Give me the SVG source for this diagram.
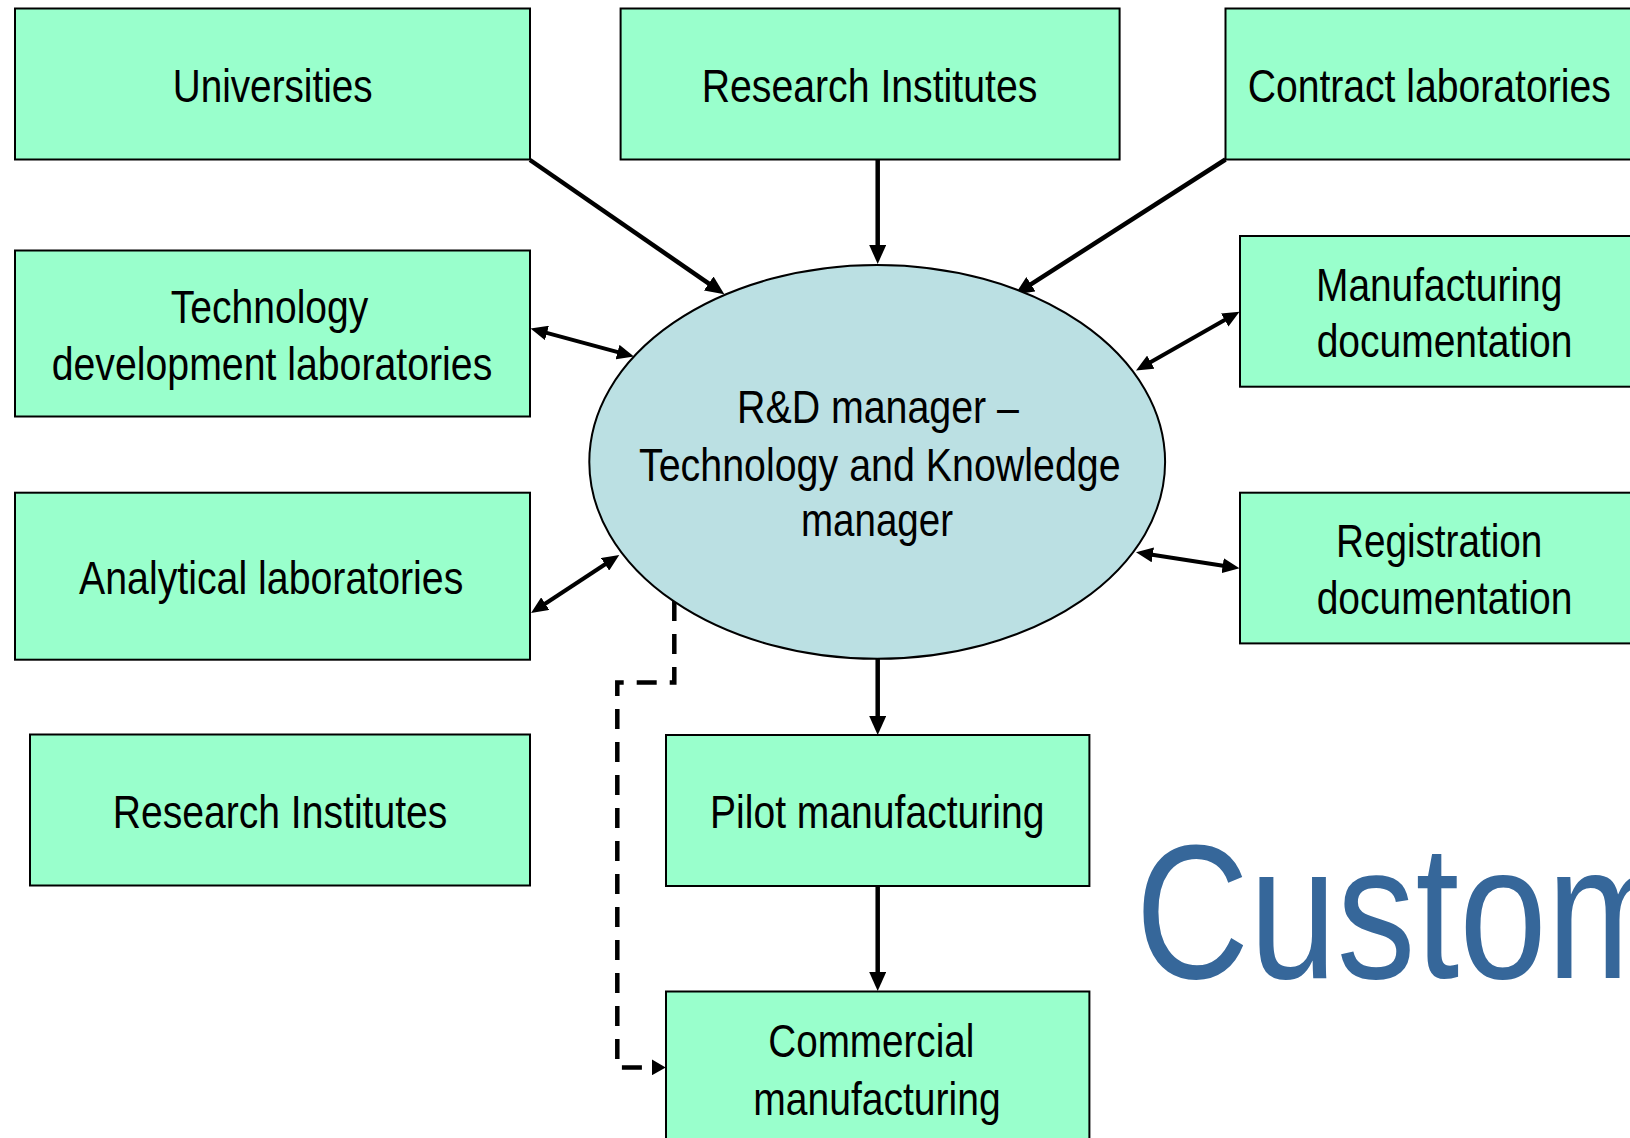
<svg xmlns="http://www.w3.org/2000/svg" width="1630" height="1138" viewBox="0 0 1630 1138">
<style>
.box{fill:#99FFCC;stroke:#000;stroke-width:2}
.ell{fill:#BBE0E3;stroke:#000;stroke-width:2}
.lbl{font-family:"Liberation Sans Narrow","Liberation Sans",Arial,sans-serif;font-size:46px;fill:#000}
.c{text-anchor:middle}
.conn{stroke:#000;stroke-width:4.5;fill:none}
.dbl{stroke:#000;stroke-width:4;fill:none}
.dash{stroke:#000;stroke-width:4.5;fill:none;stroke-dasharray:20 13}
.big{font-family:"Liberation Sans",Arial,sans-serif;font-size:192px;fill:#36679A}
</style>
<defs>
<marker id="ah" viewBox="0 0 19 17" refX="9" refY="8.5" markerWidth="19" markerHeight="17" markerUnits="userSpaceOnUse" orient="auto-start-reverse"><path d="M0,0 L19,8.5 L0,17 z" fill="#000"/></marker>
<marker id="ah2" viewBox="0 0 17 15" refX="7" refY="7.5" markerWidth="17" markerHeight="15" markerUnits="userSpaceOnUse" orient="auto-start-reverse"><path d="M0,0 L17,7.5 L0,15 z" fill="#000"/></marker>
<marker id="ahd" viewBox="0 0 14 16" refX="0" refY="8" markerWidth="14" markerHeight="16" markerUnits="userSpaceOnUse" orient="auto"><path d="M0,0 L14,8 L0,16 z" fill="#000"/></marker>
</defs>
<rect width="1630" height="1138" fill="#fff"/>

<g id="connectors">
<line class="conn" x1="530" y1="160" x2="716.1" y2="288.6" marker-end="url(#ah)"/>
<line class="conn" x1="877.7" y1="159.5" x2="877.7" y2="254" marker-end="url(#ah)"/>
<line class="conn" x1="1225.5" y1="159.5" x2="1023.4" y2="289.1" marker-end="url(#ah)"/>
<line class="dbl" x1="540.2" y1="331.1" x2="624.3" y2="353.9" marker-start="url(#ah2)" marker-end="url(#ah2)"/>
<line class="dbl" x1="539.4" y1="607.5" x2="610.9" y2="560.5" marker-start="url(#ah2)" marker-end="url(#ah2)"/>
<line class="dbl" x1="1144.7" y1="365.6" x2="1230.8" y2="316.6" marker-start="url(#ah2)" marker-end="url(#ah2)"/>
<line class="dbl" x1="1145.9" y1="553.8" x2="1229.6" y2="566.8" marker-start="url(#ah2)" marker-end="url(#ah2)"/>
<line class="conn" x1="877.7" y1="659" x2="877.7" y2="725" marker-end="url(#ah)"/>
<line class="conn" x1="877.7" y1="886" x2="877.7" y2="981" marker-end="url(#ah)"/>
<path class="dash" d="M674.3,601 V682.4 H617.3 V1067.4 H651.7" marker-end="url(#ahd)"/>
</g>

<g id="universities">
<rect class="box" x="15" y="8.5" width="515" height="151"/>
<text class="lbl c" x="272.7" y="102" textLength="200" lengthAdjust="spacingAndGlyphs">Universities</text>
</g>
<g id="research-institutes-top">
<rect class="box" x="620.6" y="8.5" width="499" height="151"/>
<text class="lbl c" x="869.5" y="102" textLength="335.7" lengthAdjust="spacingAndGlyphs">Research Institutes</text>
</g>
<g id="contract-laboratories">
<rect class="box" x="1225.5" y="8.5" width="420" height="151"/>
<text class="lbl" x="1247.7" y="101.7" textLength="363" lengthAdjust="spacingAndGlyphs">Contract laboratories</text>
</g>
<g id="technology-development-laboratories">
<rect class="box" x="15" y="250.5" width="515" height="166"/>
<text class="lbl c" x="269.5" y="322.7" textLength="197.6" lengthAdjust="spacingAndGlyphs">Technology</text>
<text class="lbl c" x="272" y="380" textLength="440.6" lengthAdjust="spacingAndGlyphs">development laboratories</text>
</g>
<g id="manufacturing-documentation">
<rect class="box" x="1240" y="236" width="409" height="150.7"/>
<text class="lbl" x="1316" y="300.5" textLength="246.3" lengthAdjust="spacingAndGlyphs">Manufacturing</text>
<text class="lbl" x="1316.7" y="357" textLength="255.7" lengthAdjust="spacingAndGlyphs">documentation</text>
</g>
<g id="rd-manager">
<ellipse class="ell" cx="877.2" cy="461.9" rx="287.9" ry="196.9"/>
<text class="lbl c" x="878" y="422.7" textLength="282" lengthAdjust="spacingAndGlyphs">R&amp;D manager –</text>
<text class="lbl c" x="879.8" y="480.7" textLength="481.6" lengthAdjust="spacingAndGlyphs">Technology and Knowledge</text>
<text class="lbl c" x="877" y="536" textLength="152" lengthAdjust="spacingAndGlyphs">manager</text>
</g>
<g id="analytical-laboratories">
<rect class="box" x="15" y="492.7" width="515" height="167"/>
<text class="lbl c" x="271.2" y="594.3" textLength="384.3" lengthAdjust="spacingAndGlyphs">Analytical laboratories</text>
</g>
<g id="registration-documentation">
<rect class="box" x="1240" y="492.7" width="409" height="150.7"/>
<text class="lbl" x="1336" y="557.3" textLength="206.3" lengthAdjust="spacingAndGlyphs">Registration</text>
<text class="lbl" x="1316.7" y="614" textLength="255.7" lengthAdjust="spacingAndGlyphs">documentation</text>
</g>
<g id="research-institutes-bottom">
<rect class="box" x="30" y="734.5" width="500" height="151"/>
<text class="lbl c" x="280" y="828.3" textLength="334.7" lengthAdjust="spacingAndGlyphs">Research Institutes</text>
</g>
<g id="pilot-manufacturing">
<rect class="box" x="666" y="735" width="423.4" height="151"/>
<text class="lbl c" x="877.2" y="828.2" textLength="334.3" lengthAdjust="spacingAndGlyphs">Pilot manufacturing</text>
</g>
<g id="commercial-manufacturing">
<rect class="box" x="666" y="991.5" width="423.4" height="170"/>
<text class="lbl" x="768.3" y="1057.4" textLength="206" lengthAdjust="spacingAndGlyphs">Commercial</text>
<text class="lbl" x="753.3" y="1114.8" textLength="247.3" lengthAdjust="spacingAndGlyphs">manufacturing</text>
</g>
<g id="customer-title">
<text class="big" transform="translate(1135.6,977.7) scale(0.82,1)" x="0" y="0">Custom</text>
</g>
</svg>
